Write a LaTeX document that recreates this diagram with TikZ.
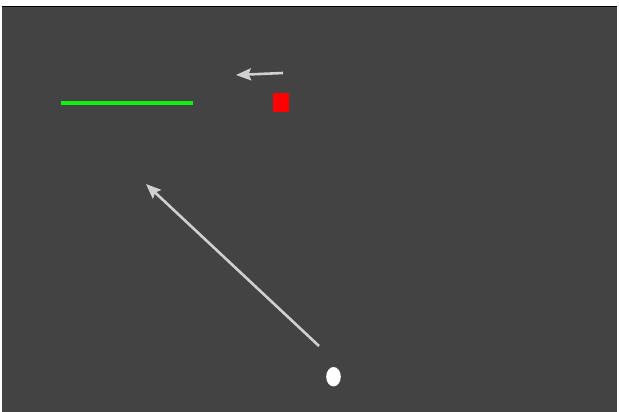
\documentclass[tikz,border=0pt]{standalone}
\usetikzlibrary{arrows.meta}
\definecolor{bgdark}{HTML}{434343}
\definecolor{arrowgray}{HTML}{D0D0D0}
\definecolor{brightgreen}{HTML}{10F010}
\begin{document}
\begin{tikzpicture}[x=1pt,y=-1pt,
  pointer/.style={draw=arrowgray,line width=2.6pt,-{Stealth[length=15pt,width=12pt,inset=2.5pt]}}]
\useasboundingbox (0,0) rectangle (619,412);
\fill[bgdark] (2,6) rectangle (617,412);
\draw[black,line width=1.5pt] (2,6.5) -- (617,6.5);
\coordinate (sa1) at (283,73);
\coordinate (sa2) at (236,75);
\draw[pointer] (sa1) -- (sa2);
\coordinate (ba1) at (319,346);
\coordinate (ba2) at (146,184);
\draw[pointer] (ba1) -- (ba2);
\node[fill=red,minimum width=16pt,minimum height=19pt,inner sep=0pt] (box) at (281,102.5) {};
\coordinate (g1) at (61,103);
\coordinate (g2) at (193,103);
\draw[brightgreen,line width=3.2pt] (g1) -- (g2);
\fill[white] (333.5,376.7) ellipse [x radius=7.3, y radius=9.7];
\end{tikzpicture}
\end{document}
